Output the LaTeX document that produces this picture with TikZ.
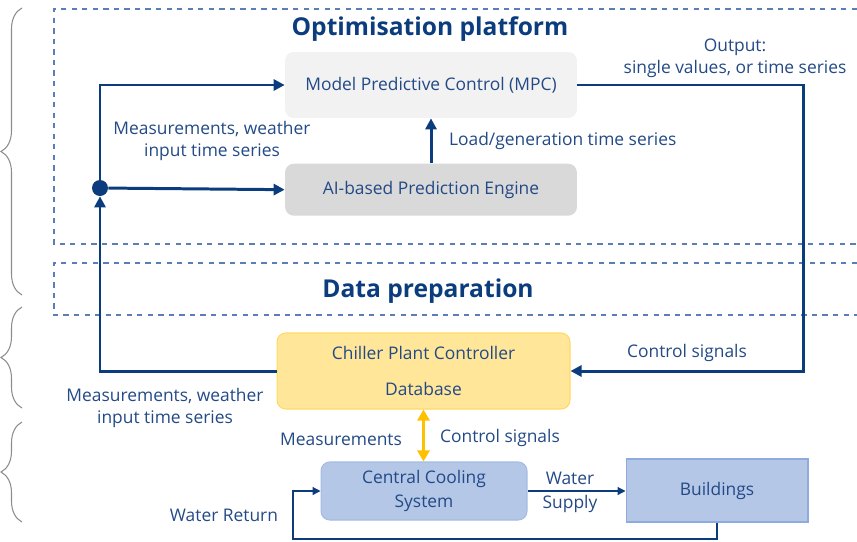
\documentclass[tikz,border=0pt]{standalone}
\usepackage{fontspec}
\setmainfont{Open Sans}
\usepackage{tikz}
\usetikzlibrary{arrows.meta, positioning, decorations.pathreplacing}
\definecolor{optNavy}{HTML}{0B3C7D}
\definecolor{optText}{HTML}{234A86}
\definecolor{optDash}{HTML}{5B7DB8}
\definecolor{optLight}{HTML}{F2F2F2}
\definecolor{optGrey}{HTML}{D9D9D9}
\definecolor{optYellow}{HTML}{FFE699}
\definecolor{optYellowLine}{HTML}{FFD966}
\definecolor{optAmber}{HTML}{FFC000}
\definecolor{optBlue}{HTML}{B4C7E7}
\definecolor{optBlueLine}{HTML}{8FAADC}
\definecolor{optBrace}{HTML}{8C8C8C}

\begin{document}
\begin{tikzpicture}[
  x=0.02cm, y=-0.02cm,
  node distance=9mm,
  txt/.style={font=\fontsize{9.9}{12.6}\selectfont, text=optText, align=center, inner sep=1pt},
  ttl/.style={font=\fontsize{14}{16}\selectfont\bfseries, text=optNavy},
  box/.style={txt, rounded corners=5pt, minimum width=5.84cm},
  lane/.style={draw=optDash, dashed, line width=0.6pt},
  brc/.style={draw=optBrace, line width=0.6pt, decorate, decoration={brace, amplitude=0.42cm}},
  arr/.style={-{Triangle[length=2.2mm, width=2.2mm]}, line width=1.7pt, draw=optNavy},
  flow/.style={-{Triangle[length=1.6mm, width=1.6mm]}, line width=0.7pt, draw=optNavy}
]
\useasboundingbox (0,0) rectangle (857,541);

\draw[brc] (22,295) -- (22,8);
\draw[brc] (22,408) -- (22,307);
\draw[brc] (22,522) -- (22,422);

\draw[lane] (857,9) -- (54,9) -- (54,244) -- (857,244);
\draw[lane] (857,263) -- (54,263) -- (54,315) -- (857,315);
\node[ttl] (optttl) at (430,29) {Optimisation platform};
\node[ttl] (prepttl) at (428,291) {Data preparation};

\node[box, fill=optLight, minimum height=1.32cm] (mpc) at (431,85) {Model Predictive Control (MPC)};
\node[box, fill=optGrey, minimum height=1.04cm, below=of mpc] (ai) {AI-based Prediction Engine};
\node[box, fill=optYellow, draw=optYellowLine, line width=0.6pt, minimum width=5.86cm, minimum height=1.52cm,
  font=\fontsize{9.9}{21}\selectfont] (chiller) at (423.5,371) {Chiller Plant Controller\\Database};
\node[box, fill=optBlue, draw=optBlueLine!80, line width=0.6pt, minimum width=4.12cm, minimum height=1.16cm,
  font=\fontsize{9.9}{13.6}\selectfont] (ccs) at (424,491) {Central Cooling\\System};
\node[txt, fill=optBlue, draw=optBlueLine, line width=0.6pt, minimum width=3.64cm, minimum height=1.26cm] (bld) at (717,490.5) {Buildings};

\node[circle, fill=optNavy, inner sep=0pt, minimum size=0.32cm] (junc) at (100,188) {};
\coordinate (rturn) at (803,371);
\coordinate (ret) at (293,539);

\draw[arr] (ai) -- (mpc);
\draw[arr] (junc) |- (mpc.west);
\draw[arr] (junc) -- (ai.west);
\draw[arr] (chiller.west) -- (chiller.west -| junc) -- (junc.south);
\draw[arr] (mpc.east) -| (rturn) -- (chiller.east);
\draw[{Triangle[length=2.2mm, width=2.4mm]}-{Triangle[length=2.2mm, width=2.4mm]}, line width=1.7pt, draw=optAmber]
  (chiller.south) -- (chiller.south |- ccs.north);
\draw[flow] (ccs.east) -- (ccs.east -| bld.west);
\draw[flow] (bld.south) |- (ret) |- (ccs.west);

\node[txt] (measup) at (212,141) {Measurements, weather\\input time series};
\node[txt, anchor=west] (loadlbl) at (447,141) {Load/generation time series};
\node[txt] (outlbl) at (735,58) {Output:\\single values, or time series};
\node[txt] (ctrlup) at (687,353) {Control signals};
\node[txt] (measlow) at (165,408) {Measurements, weather\\input time series};
\node[txt, anchor=east] (measlbl) at (404,439) {Measurements};
\node[txt, anchor=west] (ctrllow) at (438,438) {Control signals};
\node[txt, font=\fontsize{9.9}{13.6}\selectfont] (supply) at (570,492) {Water\\Supply};
\node[txt] (retlbl) at (224,515) {Water Return};
\end{tikzpicture}
\end{document}
